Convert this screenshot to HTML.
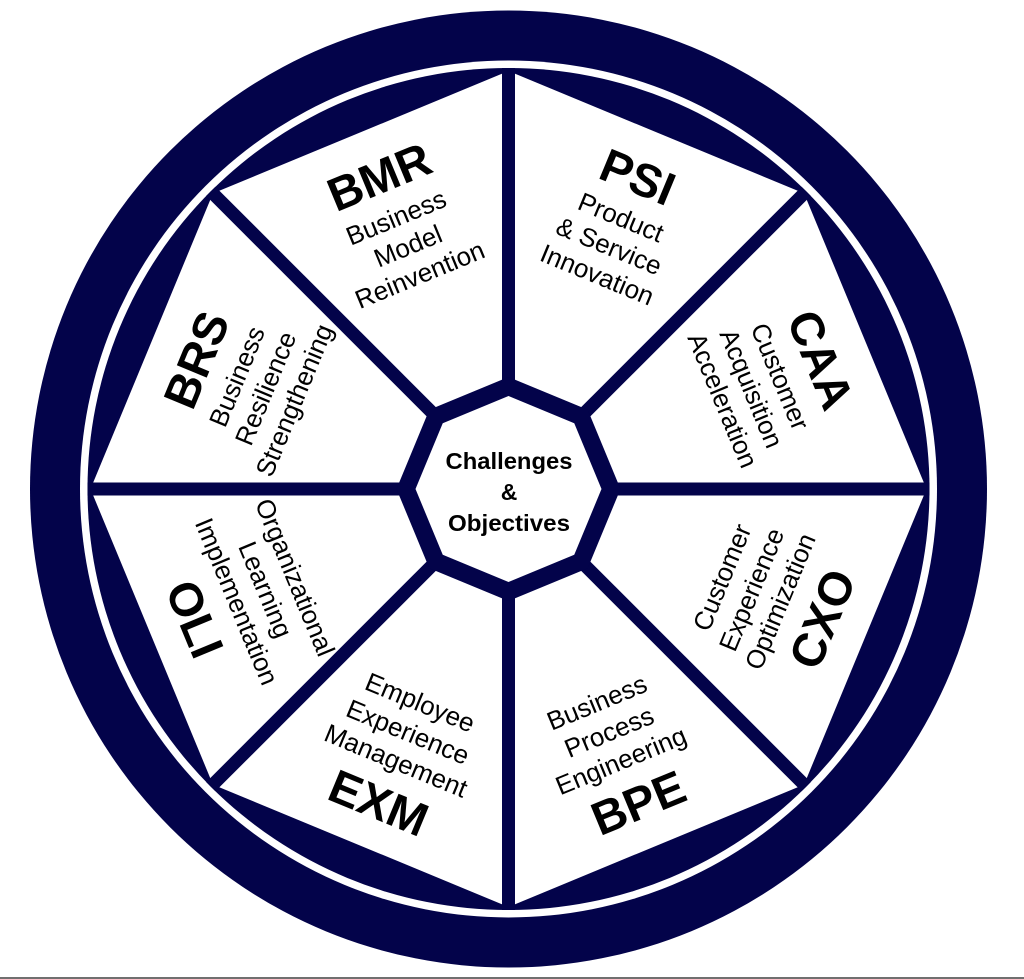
<!DOCTYPE html>
<html>
<head>
<meta charset="utf-8">
<style>
  html, body { margin: 0; padding: 0; background: #fff; }
  svg { display: block; }
  text { font-family: "Liberation Sans", Arial, sans-serif; fill: #000; text-anchor: middle; }
  .sm { font-size: 26px; }
  .ab { font-size: 47px; font-weight: bold; }
  .ct { font-size: 23px; font-weight: bold; }
</style>
</head>
<body>
<svg width="1024" height="979" viewBox="0 0 1024 979" xmlns="http://www.w3.org/2000/svg">
  <rect width="1024" height="979" fill="#fff"/>
  <rect x="0" y="977" width="1024" height="2" fill="#707070"/>

  <!-- outer ring -->
  <circle cx="508.5" cy="489" r="478.5" fill="#03034a"/>
  <circle cx="508.5" cy="489" r="428.5" fill="#fff"/>
  <circle cx="508.5" cy="489" r="421" fill="#03034a"/>

  <!-- white octagon (wedges) -->
  <polygon points="926.5,489 804.07,193.43 508.5,71 212.93,193.43 90.5,489 212.93,784.57 508.5,907 804.07,784.57" fill="#fff"/>

  <!-- spokes -->
  <g stroke="#03034a" stroke-width="13">
    <line x1="87.5" y1="489" x2="929.5" y2="489"/>
    <line x1="508.5" y1="68" x2="508.5" y2="910"/>
    <line x1="210.8" y1="191.3" x2="806.2" y2="786.7"/>
    <line x1="806.2" y1="191.3" x2="210.8" y2="786.7"/>
  </g>

  <!-- center octagon -->
  <polygon points="620.5,489 587.7,409.8 508.5,377 429.3,409.8 396.5,489 429.3,568.2 508.5,601 587.7,568.2" fill="#03034a"/>
  <polygon points="601.5,489 574.26,423.24 508.5,396 442.74,423.24 415.5,489 442.74,554.76 508.5,582 574.26,554.76" fill="#fff"/>

  <text class="ct" x="509" y="469" textLength="127" lengthAdjust="spacingAndGlyphs">Challenges</text>
  <text class="ct" x="509" y="500">&amp;</text>
  <text class="ct" x="509" y="531" textLength="122" lengthAdjust="spacingAndGlyphs">Objectives</text>

  <!-- BMR -->
  <g transform="translate(407.9,246) rotate(-22.5)">
    <text class="ab" y="-58.5">BMR</text>
    <text class="sm" y="-22">Business</text>
    <text class="sm" y="9">Model</text>
    <text class="sm" y="40">Reinvention</text>
  </g>

  <!-- PSI -->
  <g transform="translate(609.1,246) rotate(22.5)">
    <text class="ab" y="-58.5">PSI</text>
    <text class="sm" y="-22">Product</text>
    <text class="sm" y="9">&amp; Service</text>
    <text class="sm" y="40">Innovation</text>
  </g>

  <!-- CAA -->
  <g transform="translate(751.5,388.4) rotate(67.5)">
    <text class="ab" y="-58.5">CAA</text>
    <text class="sm" y="-22">Customer</text>
    <text class="sm" y="9">Acquisition</text>
    <text class="sm" y="40">Acceleration</text>
  </g>

  <!-- BRS -->
  <g transform="translate(265.5,388.4) rotate(-67.5)">
    <text class="ab" y="-58.5">BRS</text>
    <text class="sm" y="-22">Business</text>
    <text class="sm" y="9">Resilience</text>
    <text class="sm" y="40">Strengthening</text>
  </g>

  <!-- CXO -->
  <g transform="translate(751.5,589.6) rotate(-67.5)">
    <text class="sm" y="-23">Customer</text>
    <text class="sm" y="9">Experience</text>
    <text class="sm" y="40">Optimization</text>
    <text class="ab" y="93">CXO</text>
  </g>

  <!-- BPE -->
  <g transform="translate(609.1,732) rotate(-22.5)">
    <text class="sm" y="-23">Business</text>
    <text class="sm" y="9">Process</text>
    <text class="sm" y="40">Engineering</text>
    <text class="ab" y="93">BPE</text>
  </g>

  <!-- EXM -->
  <g transform="translate(407.9,732) rotate(22.5)">
    <text class="sm" y="-23">Employee</text>
    <text class="sm" y="9">Experience</text>
    <text class="sm" y="40">Management</text>
    <text class="ab" y="93">EXM</text>
  </g>

  <!-- OLI -->
  <g transform="translate(265.5,589.6) rotate(67.5)">
    <text class="sm" y="-23">Organizational</text>
    <text class="sm" y="9">Learning</text>
    <text class="sm" y="40">Implementation</text>
    <text class="ab" y="93">OLI</text>
  </g>
</svg>
</body>
</html>
